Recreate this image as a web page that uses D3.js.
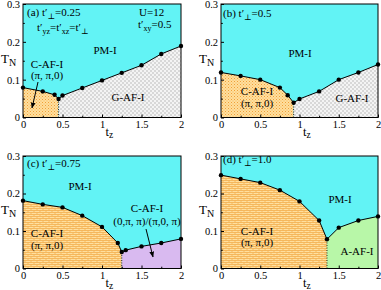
<!DOCTYPE html>
<html>
<head>
<meta charset="utf-8">
<script src="https://cdn.jsdelivr.net/npm/d3@7"></script>
<style>
  body { margin:0; background:#fff; }
  svg text { font-family: "Liberation Serif", "DejaVu Serif", serif; fill:#000; }
</style>
</head>
<body>
<svg id="chart" width="381" height="290"></svg>
<script>
const W = 381, H = 290;

// данные: t_z и T_N на границе фаз
const tzA = [0, 0.25, 0.4, 0.45, 0.5, 0.75, 1, 1.25, 1.5, 1.75, 2];
const tnA = [0.079, 0.069, 0.06, 0.049, 0.058, 0.078, 0.098, 0.118, 0.138, 0.168, 0.189];
const tzB = [0, 0.25, 0.5, 0.75, 0.85, 0.925, 1, 1.25, 1.5, 1.75, 2];
const tnB = [0.119, 0.11, 0.1, 0.079, 0.059, 0.039, 0.049, 0.069, 0.1, 0.119, 0.14];
const tzC = [0, 0.25, 0.5, 0.75, 1, 1.2, 1.25, 1.3, 1.5, 1.75, 2];
const tnC = [0.181, 0.171, 0.163, 0.141, 0.111, 0.068, 0.044, 0.049, 0.059, 0.068, 0.079];
const tzD = [0, 0.25, 0.5, 0.75, 1, 1.25, 1.35, 1.5, 1.75, 2];
const tnD = [0.249, 0.239, 0.229, 0.209, 0.179, 0.128, 0.078, 0.109, 0.128, 0.139];

// точка перехода (пунктирная вертикаль)
const splitTz = [0.45, 0.925, 1.25, 1.35];

const xTicks = [0, 0.5, 1, 1.5, 2];
const xTickLabels = ['0', '0.5', '1', '1.5', '2'];
const yTicks = [0, 0.1, 0.2, 0.3];
const yTickLabels = ['0', '0.1', '0.2', '0.3'];
const xMinor = [0.25, 0.75, 1.25, 1.75];
const yMinor = [0.05, 0.15, 0.25];

const CYAN = '#62f3f5';

const svg = d3.select('#chart');
const defs = svg.append('defs');

// узоры
const pDots = defs.append('pattern').attr('id','dots').attr('patternUnits','userSpaceOnUse')
  .attr('width',3).attr('height',3);
pDots.append('rect').attr('width',3).attr('height',3).attr('fill','#ffdf9e');
pDots.append('rect').attr('x',0).attr('y',0).attr('width',1).attr('height',1).attr('fill','#f0a038');
pDots.append('rect').attr('x',1.5).attr('y',1.5).attr('width',1).attr('height',1).attr('fill','#f4b458');

const pBrick = defs.append('pattern').attr('id','brick').attr('patternUnits','userSpaceOnUse')
  .attr('width',6).attr('height',4);
pBrick.append('rect').attr('width',6).attr('height',4).attr('fill','#ffdf9e');
pBrick.append('path').attr('d','M0,0.5H6M0,2.5H6M1,0.5V2.5M4,2.5V4.5')
  .attr('stroke','#f2ae4e').attr('stroke-width',0.8).attr('fill','none');

const pCheck = defs.append('pattern').attr('id','check').attr('patternUnits','userSpaceOnUse')
  .attr('width',4).attr('height',4);
pCheck.append('rect').attr('width',4).attr('height',4).attr('fill','#f4f4f4');
pCheck.append('rect').attr('width',2).attr('height',2).attr('fill','#d8d8d8');
pCheck.append('rect').attr('x',2).attr('y',2).attr('width',2).attr('height',2).attr('fill','#d8d8d8');

const panels = [
  { tz: tzA, tn: tnA, split: splitTz[0], left: 'url(#dots)',  right: 'url(#check)', x0: 23,  x1: 181, y0: 4,   y1: 117.5 },
  { tz: tzB, tn: tnB, split: splitTz[1], left: 'url(#dots)',  right: 'url(#check)', x0: 221, x1: 378, y0: 4,   y1: 117.5 },
  { tz: tzC, tn: tnC, split: splitTz[2], left: 'url(#brick)', right: '#d9baf0',     x0: 23,  x1: 181, y0: 156, y1: 268.5 },
  { tz: tzD, tn: tnD, split: splitTz[3], left: 'url(#brick)', right: '#b8f7a8',     x0: 221, x1: 378, y0: 156, y1: 268.5 },
];

panels.forEach((p, i) => {
  const x = d3.scaleLinear().domain([0, 2]).range([p.x0, p.x1]);
  const y = d3.scaleLinear().domain([0, 0.3]).range([p.y1, p.y0]);
  const g = svg.append('g');
  p.x = x; p.y = y; p.g = g;

  g.append('rect').attr('x', p.x0).attr('y', p.y0)
    .attr('width', p.x1 - p.x0).attr('height', p.y1 - p.y0).attr('fill', CYAN);

  const pts = p.tz.map((t, k) => [t, p.tn[k]]);
  const k0 = p.tz.indexOf(p.split);
  const area = d3.area().x(d => x(d[0])).y0(y(0)).y1(d => y(d[1]));
  g.append('path').attr('d', area(pts.slice(0, k0 + 1))).attr('fill', p.left);
  g.append('path').attr('d', area(pts.slice(k0))).attr('fill', p.right);

  g.append('line').attr('x1', x(p.split)).attr('x2', x(p.split))
    .attr('y1', y(0)).attr('y2', y(p.tn[k0]))
    .attr('stroke', '#000').attr('stroke-width', 0.8).attr('stroke-dasharray', '1,1.5');

  g.append('path').attr('d', d3.line().x(d => x(d[0])).y(d => y(d[1]))(pts))
    .attr('fill', 'none').attr('stroke', '#000').attr('stroke-width', 1);
  g.selectAll('circle').data(pts).join('circle')
    .attr('cx', d => x(d[0])).attr('cy', d => y(d[1])).attr('r', 2.2).attr('fill', '#000');

  // оси: деления внутрь
  const axB = d3.axisBottom(x).tickValues(xTicks).tickSize(-3).tickFormat((d, j) => xTickLabels[j]);
  const axL = d3.axisLeft(y).tickValues(yTicks).tickSize(-3).tickFormat((d, j) => yTickLabels[j]);
  const gb = g.append('g').attr('transform', `translate(0,${p.y1})`).call(axB);
  const gl = g.append('g').attr('transform', `translate(${p.x0},0)`).call(axL);
  [gb, gl].forEach(a => {
    a.select('.domain').remove();
    a.selectAll('text').style('font-size', '10.5px').style('font-family', '"Liberation Serif", serif');
  });
  gb.selectAll('text').attr('y', 3);
  gl.selectAll('text').attr('x', -3);
  g.append('g').attr('transform', `translate(0,${p.y1})`)
    .call(d3.axisBottom(x).tickValues(xMinor).tickSize(-1.8).tickFormat(''))
    .select('.domain').remove();
  g.append('g').attr('transform', `translate(${p.x0},0)`)
    .call(d3.axisLeft(y).tickValues(yMinor).tickSize(-1.8).tickFormat(''))
    .select('.domain').remove();

  g.append('rect').attr('x', p.x0).attr('y', p.y0)
    .attr('width', p.x1 - p.x0).attr('height', p.y1 - p.y0)
    .attr('fill', 'none').attr('stroke', '#000').attr('stroke-width', 1);

  // подписи осей
  const tn = g.append('text').attr('x', p.x0 - 22).attr('y', (p.y0 + p.y1) / 2 + 2)
    .style('font-size', '13px');
  tn.append('tspan').text('T');
  tn.append('tspan').attr('dy', 3).style('font-size', '10px').text('N');
  const tzl = g.append('text').attr('x', x(1) + 3.5).attr('y', p.y1 + 18)
    .style('font-size', '12.5px');
  tzl.append('tspan').text('t');
  tzl.append('tspan').attr('dy', 2.5).style('font-size', '9.5px').text('z');
});

function label(g, xp, yp, txt, anchor, size) {
  return g.append('text').attr('x', xp).attr('y', yp)
    .attr('text-anchor', anchor || 'middle').style('font-size', (size || 11) + 'px').text(txt);
}
// t′ с индексом
function tprime(t, sub, rest) {
  t.append('tspan').text('t′');
  t.append('tspan').attr('dy', 3).style('font-size', '8px').text(sub);
  t.append('tspan').attr('dy', -3).text(rest);
}

const [pa, pb, pc, pd] = panels;
const arrowHead = defs.append('marker').attr('id','arr').attr('viewBox','0 0 10 10')
  .attr('refX', 9).attr('refY', 5).attr('markerWidth', 6).attr('markerHeight', 6)
  .attr('orient', 'auto');
arrowHead.append('path').attr('d','M0,1L10,5L0,9z').attr('fill','#000');

// (a)
let t = pa.g.append('text').attr('x', 27).attr('y', 16).style('font-size', '11px');
t.append('tspan').text('(a)  ');
tprime(t, '⊥', '=0.25');
t = pa.g.append('text').attr('x', 37).attr('y', 31).style('font-size', '11px');
tprime(t, 'yz', '=');
tprime(t, 'xz', '=');
tprime(t, '⊥', '');
label(pa.g, 139, 16, 'U=12', 'start');
t = pa.g.append('text').attr('x', 138).attr('y', 28).style('font-size', '11px');
tprime(t, 'xy', '=0.5');
label(pa.g, 105, 54, 'PM-I');
label(pa.g, 47, 68, 'C-AF-I');
label(pa.g, 47, 79, '(π, π,0)');
label(pa.g, 128, 101, 'G-AF-I');
pa.g.append('line').attr('x1', 38).attr('y1', 82).attr('x2', 32).attr('y2', 108)
  .attr('stroke', '#000').attr('stroke-width', 1).attr('marker-end', 'url(#arr)');

// (b)
t = pb.g.append('text').attr('x', 223).attr('y', 17).style('font-size', '11px');
t.append('tspan').text('(b) ');
tprime(t, '⊥', '=0.5');
label(pb.g, 300, 57, 'PM-I');
label(pb.g, 257, 95, 'C-AF-I');
label(pb.g, 257, 107, '(π, π,0)');
label(pb.g, 352, 102, 'G-AF-I');

// (c)
t = pc.g.append('text').attr('x', 27).attr('y', 167).style('font-size', '11px');
t.append('tspan').text('(c)  ');
tprime(t, '⊥', '=0.75');
label(pc.g, 80, 190, 'PM-I');
label(pc.g, 147, 212, 'C-AF-I');
label(pc.g, 147, 225, '(0,π, π)/(π,0, π)');
label(pc.g, 47, 237, 'C-AF-I');
label(pc.g, 47, 249, '(π, π,0)');
pc.g.append('line').attr('x1', 146).attr('y1', 229).attr('x2', 153).attr('y2', 257)
  .attr('stroke', '#000').attr('stroke-width', 1).attr('marker-end', 'url(#arr)');

// (d)
t = pd.g.append('text').attr('x', 223).attr('y', 163).style('font-size', '11px');
t.append('tspan').text('(d) ');
tprime(t, '⊥', '=1.0');
label(pd.g, 340, 203, 'PM-I');
label(pd.g, 257, 235, 'C-AF-I');
label(pd.g, 257, 246, '(π, π,0)');
label(pd.g, 357, 255, 'A-AF-I');
</script>
</body>
</html>
